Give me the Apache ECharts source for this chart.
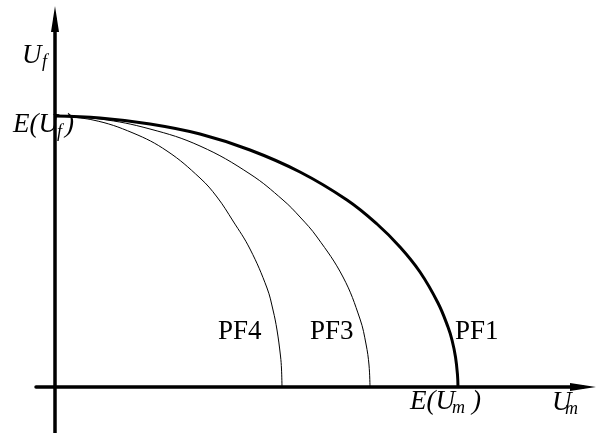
<!DOCTYPE html>
<html>
<head>
<meta charset="utf-8">
<script src="https://cdn.jsdelivr.net/npm/echarts@6/dist/echarts.min.js"></script>
<style>
  html, body { margin: 0; padding: 0; background: #fff; }
  #main { width: 597px; height: 433px; }
</style>
</head>
<body>
<div id="main"></div>
<script>
// curves, [Um, Uf] (1 unit = 1 px, origin at axis crossing)
var pf1 = [[0, 271], [45, 269], [95, 263], [145, 253], [195, 237], [245, 215], [292, 187],
  [322, 163], [345, 140], [365, 115], [383, 84], [393, 60], [397, 47], [400.5, 30],
  [402.5, 12], [403, 0]];
var pf3 = [[0, 271], [45, 268], [95, 258], [145, 241], [195, 213], [228, 187], [245, 170],
  [262, 150], [288, 110], [305, 68], [311, 43], [314, 22], [315, 0]];
var pf4 = [[0, 271], [38, 267], [78, 254], [112, 236], [145, 209], [162, 190], [178, 166],
  [195, 138], [212, 99], [218, 77], [222, 57], [225.5, 31], [226.5, 18], [227, 0]];

// labels as titles, x = left edge, y = vertical middle of the text
function lbl(str, x, y, size, italic) {
  return {
    text: str,
    left: x,
    top: y - size / 2,
    padding: 0,
    textStyle: {
      color: '#000',
      fontFamily: 'Liberation Serif',
      fontSize: size,
      fontStyle: italic ? 'italic' : 'normal',
      fontWeight: 'normal'
    }
  }
}

var option = {
  title: [
    lbl('U', 22, 56, 27, true),
    lbl('f', 42, 62, 18, true),
    lbl('E(U', 13, 125, 27, true),
    lbl('f', 57, 132, 18, true),
    lbl(')', 65, 125, 27, true),
    lbl('E(U', 410, 402, 27, true),
    lbl('m', 452, 408, 18, true),
    lbl(')', 472, 402, 27, true),
    lbl('U', 552, 403, 27, true),
    lbl('m', 565, 409, 18, true),
    lbl('PF4', 218, 332, 27, false),
    lbl('PF3', 310, 332, 27, false),
    lbl('PF1', 455, 332, 27, false)
  ],
  grid: {
    left: 36,
    top: 19,
    width: 547,
    height: 414
  },
  xAxis: {
    type: 'value',
    min: -19,
    max: 528,
    axisLine: {
      symbol: ['none', 'triangle'],
      symbolSize: [8, 26],
      lineStyle: { color: '#000', width: 3.5 }
    },
    axisTick: { show: false },
    axisLabel: { show: false },
    splitLine: { show: false }
  },
  yAxis: {
    type: 'value',
    min: -46,
    max: 368,
    axisLine: {
      symbol: ['none', 'triangle'],
      symbolSize: [8, 26],
      lineStyle: { color: '#000', width: 3.5 }
    },
    axisTick: { show: false },
    axisLabel: { show: false },
    splitLine: { show: false }
  },
  series: [
    {
      name: 'PF1', type: 'line', data: pf1, symbol: 'none', smooth: 0.4, animation: false,
      lineStyle: { color: '#000', width: 3 }
    },
    {
      name: 'PF3', type: 'line', data: pf3, symbol: 'none', smooth: 0.4, animation: false,
      lineStyle: { color: '#000', width: 1 }
    },
    {
      name: 'PF4', type: 'line', data: pf4, symbol: 'none', smooth: 0.4, animation: false,
      lineStyle: { color: '#000', width: 1 }
    }
  ]
};

var chart = echarts.init(document.getElementById('main'));
chart.setOption(option);
// draw again once the serif face is surely ready
if (document.fonts && document.fonts.load) {
  Promise.all([
    document.fonts.load('27px "Liberation Serif"'),
    document.fonts.load('italic 27px "Liberation Serif"')
  ]).then(function () {
    chart.clear();
    chart.setOption(option);
  });
}
</script>
</body>
</html>
